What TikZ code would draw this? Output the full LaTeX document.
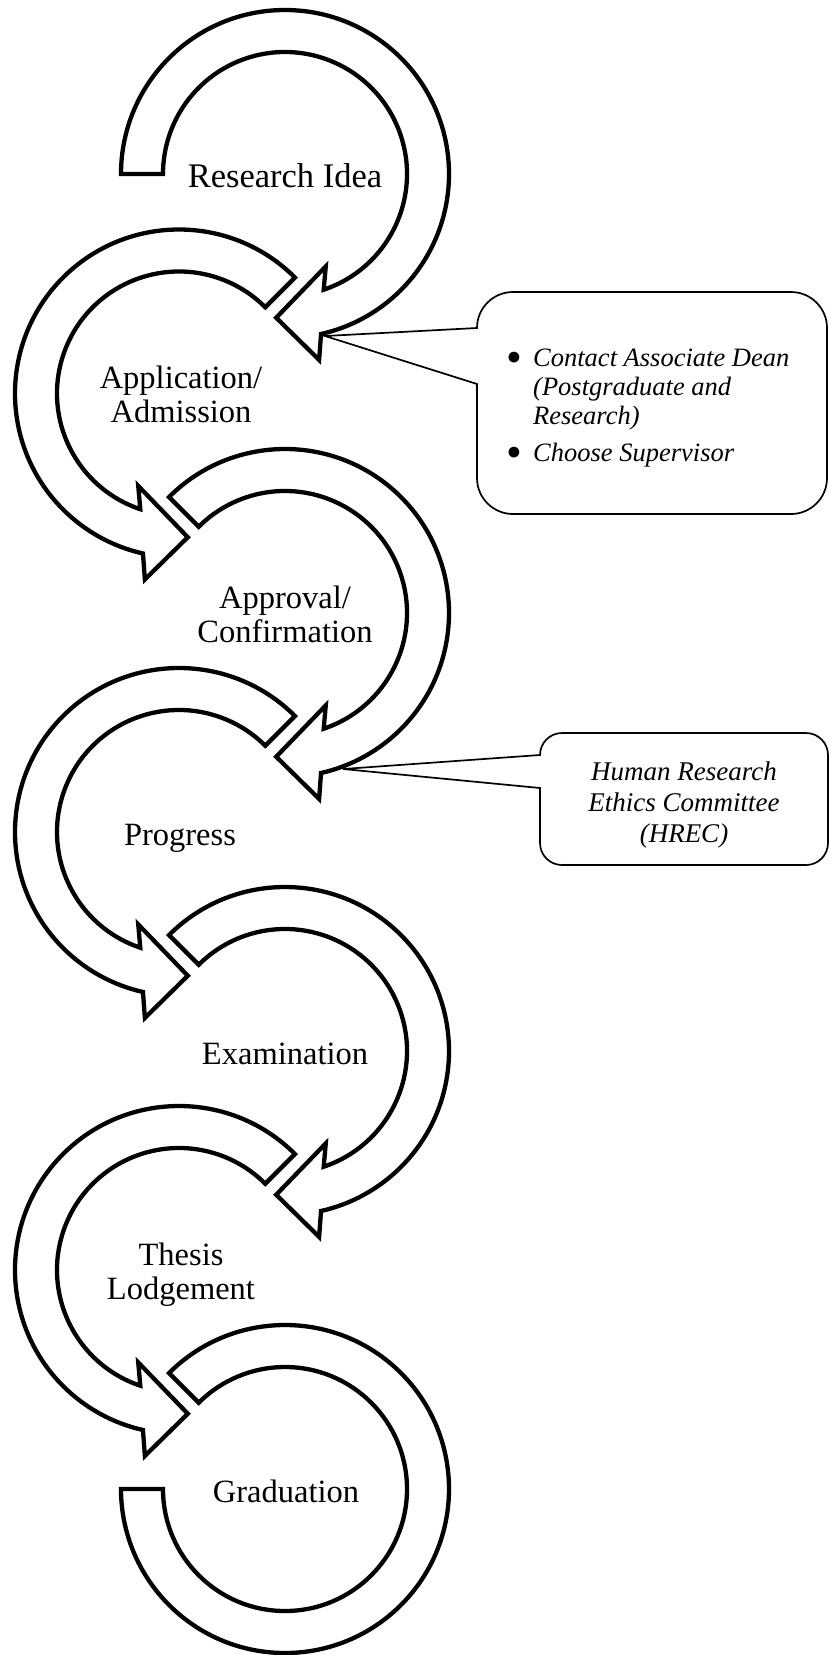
\documentclass[tikz,border=0pt]{standalone}
\usepackage{fontspec}
\setmainfont{Liberation Serif}
\newcommand{\rightband}[2]{%
  \draw[band, shift={(#1)}] (#2:164) arc[start angle=#2, end angle=-77.3, radius=164]
    -- (-79.6:189) -- (-93.5:144) -- (-66.2:101) -- (-71.5:122)
    arc[start angle=-71.5, end angle=#2, radius=122] -- cycle;}
\newcommand{\leftband}[2]{%
  \draw[band, shift={(#1)}] (#2:164) arc[start angle=#2, end angle=257.3, radius=164]
    -- (259.6:189) -- (273.5:144) -- (246.2:101) -- (251.5:122)
    arc[start angle=251.5, end angle=#2, radius=122] -- cycle;}
\newcommand{\bigbul}{\makebox[27pt][c]{\upshape\raisebox{-6pt}{\scalebox{1.7}{\textbullet}}}}
\begin{document}
\begin{tikzpicture}[x=1pt,y=1pt,
  band/.style={draw=black, fill=white, line width=4.3pt, line join=miter},
  callout/.style={draw=black, fill=white, line width=1.7pt, line join=miter},
  lbl/.style={font=\fontsize{32.5}{34}\selectfont, inner sep=0pt, anchor=base},
  note/.style={font=\fontsize{26.5}{29}\selectfont\itshape, inner sep=0pt}]
\useasboundingbox (0,0) rectangle (829,-1655);
\coordinate (C1) at (285,-174);
\coordinate (C2) at (179,-393.5);
\coordinate (C3) at (285,-613);
\coordinate (C4) at (179,-832);
\coordinate (C5) at (285,-1051);
\coordinate (C6) at (179,-1270);
\coordinate (C7) at (285,-1489);
% bands
\rightband{C1}{180}
\leftband{C2}{45}
\rightband{C3}{135}
\leftband{C4}{45}
\rightband{C5}{135}
\leftband{C6}{45}
\draw[band, shift={(C7)}] (135:164) arc[start angle=135, end angle=-180, radius=164]
  -- (180:122) arc[start angle=-180, end angle=135, radius=122] -- cycle;
% callouts
\coordinate (tipA) at (325,-336);
\coordinate (tipB) at (343,-769);
\draw[callout] (tipA) -- (477,-328) arc[start angle=180, end angle=90, radius=36]
  -- (791,-292) arc[start angle=90, end angle=0, radius=36]
  -- (827,-478) arc[start angle=0, end angle=-90, radius=36]
  -- (513,-514) arc[start angle=-90, end angle=-180, radius=36]
  -- (477,-384) -- cycle;
\draw[callout] (tipB) -- (540,-755) arc[start angle=180, end angle=90, radius=22]
  -- (806,-733) arc[start angle=90, end angle=0, radius=22]
  -- (828,-843) arc[start angle=0, end angle=-90, radius=22]
  -- (562,-865) arc[start angle=-90, end angle=-180, radius=22]
  -- (540,-788) -- cycle;
% labels
\node[lbl, font=\fontsize{34.5}{36}\selectfont] (research) at (285,-187) {Research Idea};
\node[lbl] (application) at (181,-388) {\begin{tabular}[t]{@{}c@{}}Application/\\Admission\end{tabular}};
\node[lbl] (approval) at (285,-608) {\begin{tabular}[t]{@{}c@{}}Approval/\\Confirmation\end{tabular}};
\node[lbl] (progress) at (180,-845) {Progress};
\node[lbl] (examination) at (285,-1064) {Examination};
\node[lbl] (thesis) at (181,-1265) {\begin{tabular}[t]{@{}c@{}}Thesis\\Lodgement\end{tabular}};
\node[lbl] (graduation) at (286,-1502) {Graduation};
\node[note, anchor=base west] (noteA) at (500.5,-366) {\begin{tabular}[t]{@{}c@{\hspace{5.5pt}}l@{}}\bigbul & Contact Associate Dean\\ & (Postgraduate and\\ & Research)\\[8pt] \bigbul & Choose Supervisor\end{tabular}};
\node[note, anchor=base, font=\fontsize{27}{31}\selectfont\itshape] (noteB) at (684,-780) {\begin{tabular}[t]{@{}c@{}}Human Research\\Ethics Committee\\(HREC)\end{tabular}};
\end{tikzpicture}
\end{document}
